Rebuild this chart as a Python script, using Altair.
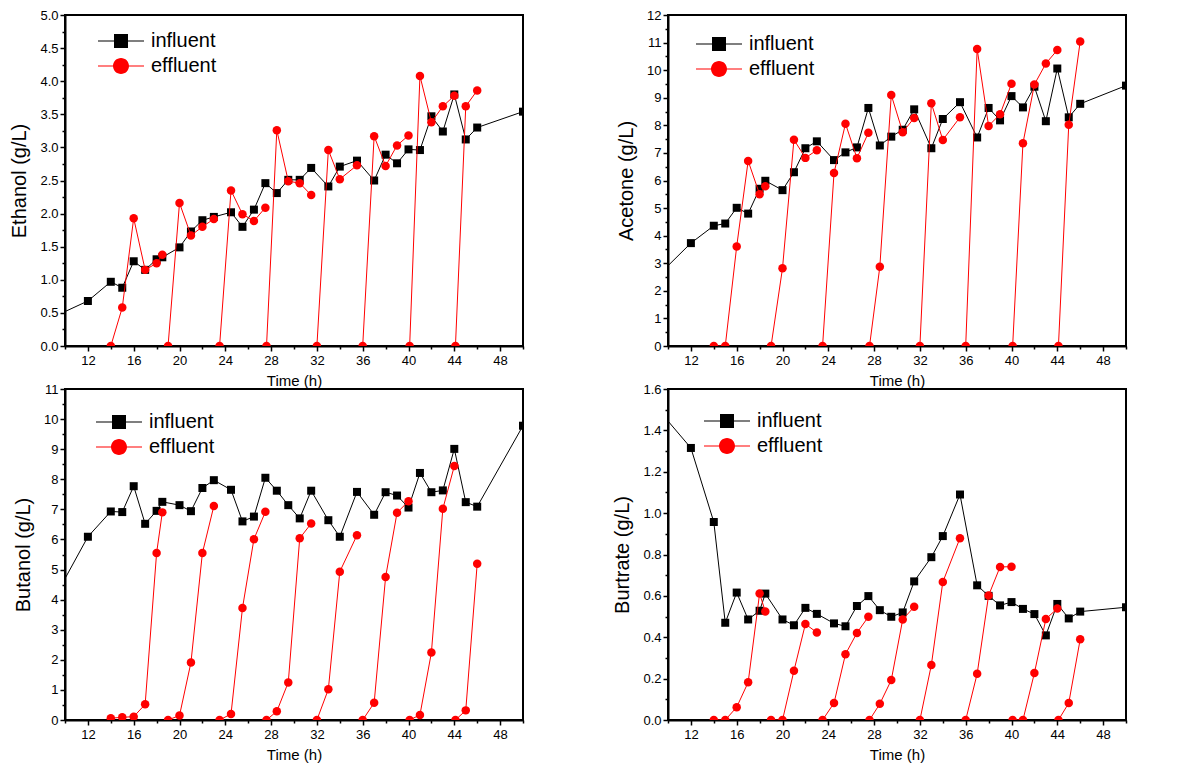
import altair as alt
import pandas as pd
import numpy as np

# ---------------- data ----------------
inf_time = [10, 12, 14, 15, 16, 17, 18, 18.5, 20, 21, 22, 23, 24.5, 25.5, 26.5, 27.5,
            28.5, 29.5, 30.5, 31.5, 33, 34, 35.5, 37, 38, 39, 40, 41, 42, 43, 44, 45, 46, 50]

eff_time = [14, 15, 16, 17, 18, 18.5,
            19, 20, 21, 22, 23,
            23.5, 24.5, 25.5, 26.5, 27.5,
            27.6, 28.5, 29.5, 30.5, 31.5,
            32, 33, 34, 35.5,
            36, 37, 38, 39, 40,
            40.1, 41, 42, 43, 44,
            44.1, 45, 46]
eff_seg = [1] * 6 + [2] * 5 + [3] * 5 + [4] * 5 + [5] * 4 + [6] * 5 + [7] * 5 + [8] * 3

ethanol_inf = [0.52, 0.68, 0.97, 0.88, 1.28, 1.15, 1.31, 1.34, 1.49, 1.73, 1.90, 1.95, 2.02, 1.80,
               2.06, 2.46, 2.31, 2.51, 2.51, 2.69, 2.41, 2.71, 2.80, 2.50, 2.89, 2.76, 2.97, 2.96,
               3.47, 3.24, 3.80, 3.12, 3.30, 3.54]
ethanol_eff = [0, 0.58, 1.93, 1.15, 1.25, 1.38,
               0, 2.16, 1.67, 1.80, 1.92,
               0, 2.35, 1.99, 1.89, 2.09,
               0, 3.26, 2.49, 2.46, 2.28,
               0, 2.96, 2.52, 2.73,
               0, 3.17, 2.72, 3.03, 3.18,
               0, 4.08, 3.38, 3.62, 3.78,
               0, 3.62, 3.86]

acetone_inf = [2.91, 3.73, 4.36, 4.44, 5.01, 4.80, 5.70, 5.99, 5.65, 6.30, 7.17, 7.42, 6.74, 7.02,
               7.20, 8.63, 7.27, 7.59, 7.84, 8.58, 7.17, 8.23, 8.84, 7.56, 8.63, 8.18, 9.06, 8.65,
               9.40, 8.15, 10.06, 8.29, 8.78, 9.44]
acetone_eff = [0, 0, 3.61, 6.71, 5.50, 5.79,
               0, 2.82, 7.48, 6.82, 7.10,
               0, 6.27, 8.06, 6.81, 7.73,
               0, 2.87, 9.10, 7.75, 8.27,
               0, 8.80, 7.47, 8.29,
               0, 10.77, 7.98, 8.40, 9.51,
               0, 7.35, 9.48, 10.24, 10.73,
               0, 8.02, 11.04]

butanol_inf = [4.70, 6.09, 6.93, 6.91, 7.77, 6.52, 6.95, 7.25, 7.14, 6.94, 7.71, 7.97, 7.65, 6.60,
               6.76, 8.05, 7.62, 7.14, 6.70, 7.62, 6.64, 6.09, 7.58, 6.82, 7.57, 7.46, 7.06, 8.21,
               7.57, 7.63, 9.01, 7.24, 7.09, 9.78]
butanol_eff = [0.06, 0.09, 0.11, 0.52, 5.55, 6.90,
               0, 0.15, 1.91, 5.55, 7.11,
               0, 0.20, 3.72, 6.01, 6.92,
               0, 0.29, 1.25, 6.04, 6.53,
               0, 1.02, 4.93, 6.14,
               0, 0.57, 4.75, 6.89, 7.27,
               0, 0.17, 2.24, 7.02, 8.44,
               0, 0.32, 5.19]

butrate_inf = [1.445, 1.315, 0.957, 0.470, 0.616, 0.486, 0.528, 0.611, 0.486, 0.458, 0.542, 0.513,
               0.467, 0.453, 0.551, 0.599, 0.531, 0.499, 0.520, 0.670, 0.787, 0.889, 1.090, 0.651,
               0.600, 0.554, 0.570, 0.537, 0.512, 0.409, 0.561, 0.491, 0.524, 0.545]
butrate_eff = [0, 0, 0.062, 0.182, 0.611, 0.524,
               0, 0, 0.238, 0.464, 0.423,
               0, 0.082, 0.318, 0.421, 0.499,
               0, 0.078, 0.193, 0.486, 0.547,
               0, 0.266, 0.667, 0.879,
               0, 0.223, 0.602, 0.740, 0.741,
               0, 0, 0.227, 0.488, 0.539,
               0, 0.082, 0.390]

series_names = ["influent", "effluent"]
series_colors = ["black", "#ff0000"]

# legend symbols: marker with a line through it (unit coords, scaled by sqrt(size)/2)
SQ_PATH = "M-1.917,-0.042H1.917V0.042H-1.917Z M-0.583,-0.583H0.583V0.583H-0.583Z"
CI_PATH = ("M-1.917,-0.042H1.917V0.042H-1.917Z "
           "M-0.667,0A0.667,0.667 0 1,1 0.667,0A0.667,0.667 0 1,1 -0.667,0Z")

FONT = "Liberation Sans"
W, H = 458, 331


def make_panel(inf_vals, eff_vals, ytitle, ymax, minor, major, fmt, lx, ly):
    inf = pd.DataFrame({"time": inf_time, "value": inf_vals,
                        "series": "influent", "seg": "i"})
    eff = pd.DataFrame({"time": eff_time, "value": eff_vals,
                        "series": "effluent", "seg": ["e%d" % s for s in eff_seg]})
    df = pd.concat([inf, eff], ignore_index=True)

    x_vals = list(range(10, 51, 2))
    x_test = "datum.value % 4 == 0"
    xaxis = alt.Axis(values=x_vals, title="Time (h)",
                     labelExpr=f"{x_test} ? datum.label : ''",
                     tickSize={"condition": {"test": x_test, "value": 5}, "value": 3},
                     labelFlush=False, labelOverlap=False,
                     labelFont=FONT, labelFontSize=13, labelColor="black",
                     titleFont=FONT, titleFontSize=15, titleFontWeight="normal", titleColor="black",
                     labelPadding=3, titlePadding=6)

    y_vals = [round(v, 4) for v in np.arange(0, ymax + 1e-9, minor)]
    y_test = f"abs(datum.value/{major} - round(datum.value/{major})) < 0.001"
    yaxis = alt.Axis(values=y_vals, title=ytitle,
                     labelExpr=f"{y_test} ? format(datum.value, '{fmt}') : ''",
                     tickSize={"condition": {"test": y_test, "value": 5}, "value": 3},
                     labelFlush=False, labelOverlap=False,
                     labelFont=FONT, labelFontSize=13, labelColor="black",
                     titleFont=FONT, titleFontSize=20, titleFontWeight="normal", titleColor="black",
                     labelPadding=2, titlePadding=10)

    x = alt.X("time:Q", scale=alt.Scale(domain=[10, 50], nice=False, zero=False), axis=xaxis)
    y = alt.Y("value:Q", scale=alt.Scale(domain=[0, ymax], nice=False, zero=False), axis=yaxis)

    base = alt.Chart(df)
    inf_line = base.transform_filter("datum.series == 'influent'").mark_line(
        color="black", strokeWidth=1, clip=True).encode(x=x, y=y, detail="seg:N")
    inf_pts = base.transform_filter("datum.series == 'influent' && datum.time > 10").mark_point(
        shape="square", filled=True, size=64, color="black", opacity=1, clip=True).encode(x=x, y=y)
    eff_line = base.transform_filter("datum.series == 'effluent'").mark_line(
        color="#ff0000", strokeWidth=1, clip=True).encode(x=x, y=y, detail="seg:N")
    eff_pts = base.transform_filter("datum.series == 'effluent'").mark_point(
        shape="circle", filled=True, size=72, color="#ff0000", opacity=1, clip=True).encode(x=x, y=y)

    leg = alt.Legend(title=None, orient="none", legendX=lx, legendY=ly,
                     symbolSize=576, symbolStrokeWidth=0, labelFontSize=20,
                     labelFont=FONT, labelColor="black", labelOffset=18,
                     padding=0, rowPadding=3, labelBaseline="middle")
    leg_layer = base.transform_filter("false").mark_point(filled=True, opacity=1).encode(
        x=x, y=y,
        color=alt.Color("series:N", scale=alt.Scale(domain=series_names, range=series_colors),
                        legend=leg),
        shape=alt.Shape("series:N", scale=alt.Scale(domain=series_names, range=[SQ_PATH, CI_PATH]),
                        legend=leg),
    )
    return alt.layer(inf_line, inf_pts, eff_line, eff_pts, leg_layer).properties(width=W, height=H)


p1 = make_panel(ethanol_inf, ethanol_eff, "Ethanol (g/L)", 5.0, 0.25, 0.5, ".1f", 44, 14)
p2 = make_panel(acetone_inf, acetone_eff, "Acetone (g/L)", 12, 0.5, 1, "d", 39, 17)
p3 = make_panel(butanol_inf, butanol_eff, "Butanol (g/L)", 11, 0.5, 1, "d", 42, 21)
p4 = make_panel(butrate_inf, butrate_eff, "Burtrate (g/L)", 1.6, 0.1, 0.2, ".1f", 47, 20)

chart = alt.concat(p1, p2, p3, p4, columns=2, spacing={"row": -8, "column": 86}).resolve_scale(
    color="independent", shape="independent", x="independent", y="independent"
).resolve_legend(color="independent", shape="independent").properties(
    padding=0
).configure(
    font=FONT, background="white"
).configure_axis(
    domainColor="black", domainWidth=2, tickColor="black", tickWidth=1.5, grid=False
).configure_view(stroke="black", strokeWidth=2)

chart.save("out.html", embed_options={"renderer": "svg", "actions": False})
